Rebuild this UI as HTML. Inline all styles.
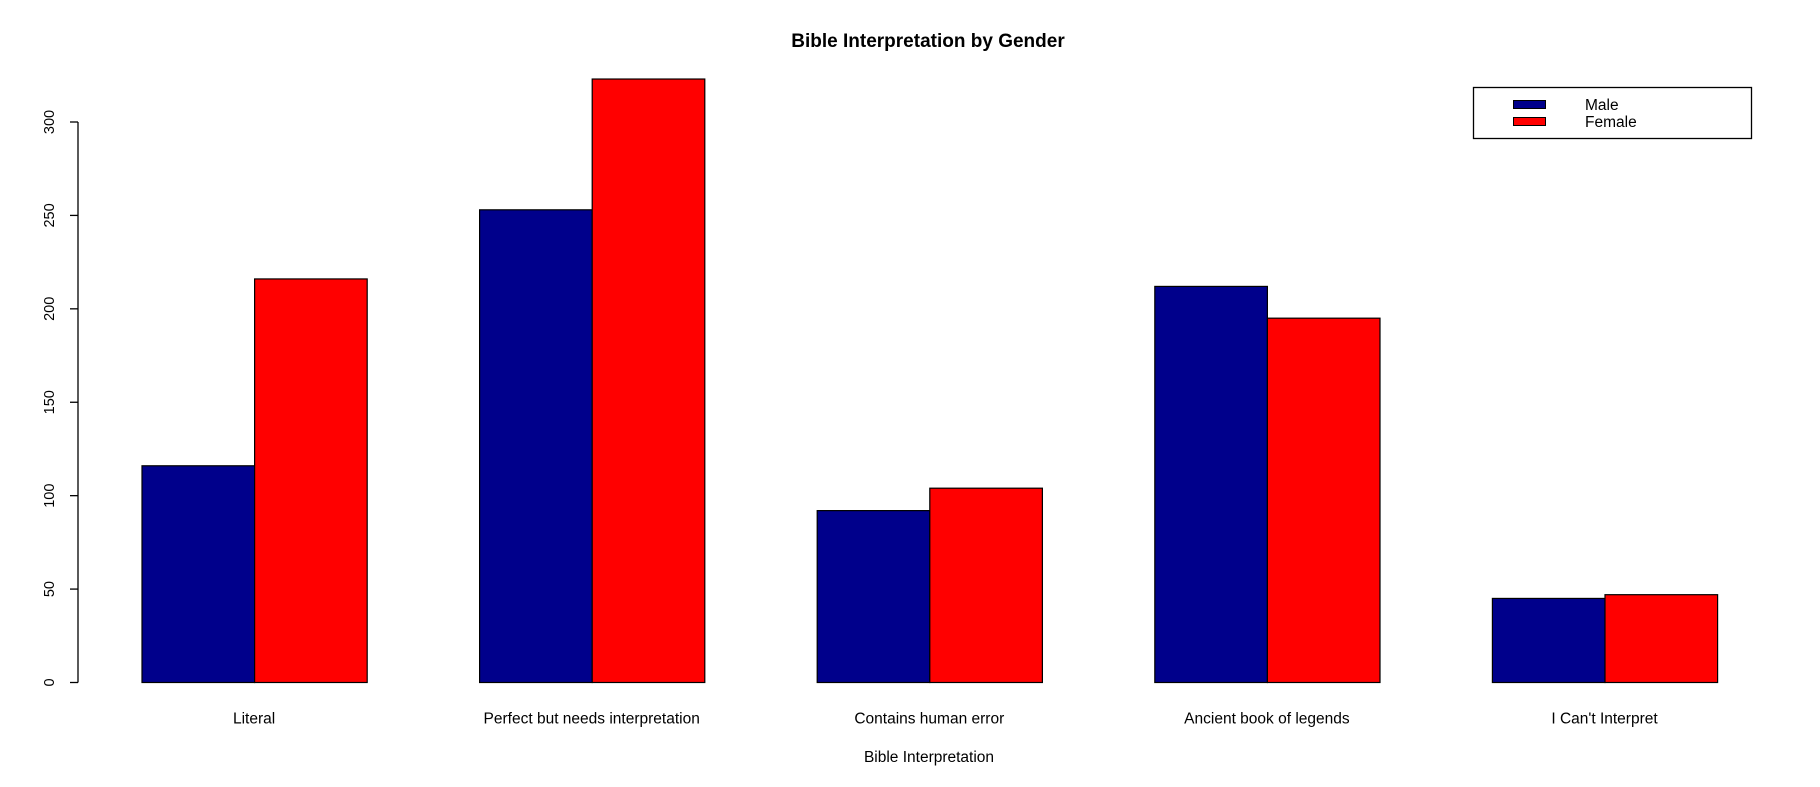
<!DOCTYPE html>
<html><head><meta charset="utf-8"><style>
html,body{margin:0;padding:0;background:#fff;}
svg{display:block;font-family:"Liberation Sans",Arial,sans-serif;}
</style></head><body>
<svg id="chart" width="1820" height="787">
<text x="928" y="47" text-anchor="middle" font-weight="bold" font-size="19">Bible Interpretation by Gender</text>
<text x="929" y="762" text-anchor="middle" font-size="15.5">Bible Interpretation</text>
<g id="yaxis"></g>
<g id="bars"></g>
<g id="xlabels"></g>
<g>
<rect x="1473.5" y="87.5" width="278" height="51" fill="#fff" stroke="#000" stroke-width="1.3"/>
<rect x="1513.5" y="100.5" width="32" height="8" fill="#00008B" stroke="#000"/>
<rect x="1513.5" y="117.5" width="32" height="8" fill="#FF0000" stroke="#000"/>
<text x="1585" y="110" font-size="15.5">Male</text>
<text x="1585" y="127" font-size="15.5">Female</text>
</g>
</svg>
<script>
const categories = ["Literal","Perfect but needs interpretation","Contains human error","Ancient book of legends","I Can't Interpret"];
const maleValues = [116,253,92,212,45];
const femaleValues = [216,323,104,195,47];
const yTicks = [0,50,100,150,200,250,300];
const NS="http://www.w3.org/2000/svg";
const y0=682.5, yScale=(682.5-122)/300;
function yPos(v){return y0-v*yScale;}
const barW=112.6, groupStart=141.5, period=337.6;
function xPos(g,s){return groupStart+g*period+s*barW;}
function mk(tag,attrs,parent){const e=document.createElementNS(NS,tag);for(const k in attrs)e.setAttribute(k,attrs[k]);parent.appendChild(e);return e;}
const ya=document.getElementById('yaxis');
let l=mk('line',{x1:78,x2:78,y1:yPos(0),y2:yPos(300),stroke:'#000','stroke-width':1.3},ya);


yTicks.forEach(t=>{
  const tk=mk('line',{x1:70,x2:78,y1:yPos(t),y2:yPos(t),stroke:'#000','stroke-width':1.3},ya);
  
  
  const tx=mk('text',{x:0,y:0,'font-size':14.5,'text-anchor':'middle',transform:`translate(54,${yPos(t)}) rotate(-90)`},ya);
  tx.textContent=t;
  
  
});
const bars=document.getElementById('bars'), xl=document.getElementById('xlabels');
categories.forEach((c,i)=>{
  [[maleValues,'#00008B','male'],[femaleValues,'#FF0000','female']].forEach((s,j)=>{
    const v=s[0][i];
    const r=mk('rect',{x:xPos(i,j)+0.5,y:yPos(v),width:barW,height:yPos(0)-yPos(v),fill:s[1],stroke:'#000','stroke-width':1.2},bars);
    
    
  });
  const t=mk('text',{x:xPos(i,1),y:723.5,'font-size':15.5,'text-anchor':'middle'},xl);
  t.textContent=c;
  
  
});
</script>
</body></html>
